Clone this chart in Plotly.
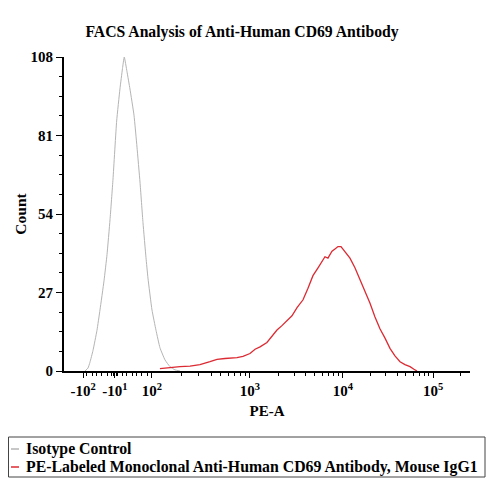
import numpy as np
import plotly.graph_objects as go

# x values are in display units of the biexponential PE-A scale
# (10^2 -> 2, 10^5 -> 5; negative side compressed)
ISO_X = [1.285, 1.317, 1.338, 1.370, 1.413, 1.445, 1.488, 1.520, 1.552, 1.584,
         1.623, 1.658, 1.685, 1.704, 1.733, 1.765, 1.808, 1.840, 1.872, 1.904,
         1.936, 1.957, 2.000, 2.043, 2.085, 2.139, 2.192, 2.245, 2.299]
ISO_Y = [0, 1, 3, 7, 14, 21, 31, 40, 52, 66,
         86, 97, 104, 108, 103, 97, 88, 77, 65, 51,
         39, 32, 21, 14, 8, 3.8, 1.5, 0.4, 0]

CD69_X = [2.085, 2.192, 2.299, 2.406, 2.512, 2.619, 2.694, 2.779, 2.832, 2.907,
          2.971, 3.046, 3.100, 3.153, 3.227, 3.281, 3.334, 3.387, 3.441, 3.494,
          3.548, 3.612, 3.665, 3.718, 3.772, 3.825, 3.846, 3.878, 3.921, 3.953,
          3.985, 4.017, 4.049, 4.081, 4.113, 4.166, 4.220, 4.273, 4.327, 4.380,
          4.433, 4.487, 4.540, 4.593, 4.647, 4.700, 4.754, 4.796, 4.828]
CD69_Y = [0.8, 1.2, 1.5, 1.7, 2.2, 3.2, 4.0, 4.3, 4.4, 4.6,
          5.0, 6.0, 7.5, 8.3, 9.8, 12.0, 14.1, 15.6, 17.2, 19.0,
          21.8, 24.5, 28.5, 32.8, 35.5, 38.3, 39.3, 38.8, 41.2, 42.0,
          42.8, 42.8, 41.6, 40.0, 38.8, 35.5, 31.5, 27.0, 23.3, 18.6,
          14.5, 11.3, 7.8, 5.2, 3.2, 2.2, 1.5, 0.6, 0]

X_TICKVALS = [1.264, 1.605, 2.0, 3.046, 4.038, 5.0]
X_TICKTEXT = ["-10<sup>2</sup>", "-10<sup>1</sup>", "10<sup>2</sup>",
              "10<sup>3</sup>", "10<sup>4</sup>", "10<sup>5</sup>"]
Y_TICKVALS = [0, 27, 54, 81, 108]

NEG_MINOR = [1.306, 1.360, 1.413, 1.466, 1.520, 1.573, 1.594, 1.616, 1.637,
             1.680, 1.733, 1.787, 1.840, 1.893, 1.947]

SERIES_NAMES = ["Isotype Control",
                "PE-Labeled Monoclonal Anti-Human CD69 Antibody, Mouse IgG1"]
SERIES_COLORS = ["#b4b4b4", "#dc2a32"]

# log-spaced minor ticks inside each decade
decades = [(2.0, 3.046), (3.046, 4.038), (4.038, 5.0), (5.0, 5.96)]
minor_x = list(NEG_MINOR)
for lo, hi in decades:
    for k in range(2, 10):
        v = lo + (hi - lo) * np.log10(k)
        if v < 5.39:
            minor_x.append(round(v, 3))

SERIF = "Liberation Serif"
# page is shown with an 8px body margin, so the figure is a bit smaller
W, H = 492, 492
L, R, T, B = 56, 30, 49, 129
OFF = 8


def px(xp):
    # page pixel -> paper x
    return (xp - OFF - L) / (W - L - R)


def py(yp):
    # page pixel -> paper y
    return (H - B - (yp - OFF)) / (H - T - B)


fig = go.Figure()
fig.add_trace(go.Scatter(
    x=ISO_X, y=ISO_Y, mode="lines", name=SERIES_NAMES[0],
    line=dict(color=SERIES_COLORS[0], width=1, shape="spline", smoothing=0.4),
))
fig.add_trace(go.Scatter(
    x=CD69_X, y=CD69_Y, mode="lines", name=SERIES_NAMES[1],
    line=dict(color=SERIES_COLORS[1], width=1.3),
))

# legend box drawn by hand to keep it compact like the original
shapes = [dict(type="rect", xref="paper", yref="paper",
               x0=px(8.5), x1=px(485), y0=py(437), y1=py(477),
               line=dict(color="#444", width=1), fillcolor="white", layer="above")]
annotations = []
for i, (name, color) in enumerate(zip(SERIES_NAMES, SERIES_COLORS)):
    yrow = py(449 + 18 * i)
    shapes.append(dict(type="line", xref="paper", yref="paper",
                       x0=px(11), x1=px(19), y0=yrow, y1=yrow,
                       line=dict(color=color, width=1.5), layer="above"))
    annotations.append(dict(text="<b>%s</b>" % name, xref="paper", yref="paper",
                            x=px(24), y=yrow, xanchor="left", yanchor="middle",
                            showarrow=False,
                            font=dict(family=SERIF, size=15.8, color="black")))

fig.update_layout(
    width=W, height=H,
    paper_bgcolor="white", plot_bgcolor="white",
    margin=dict(l=L, r=R, t=T, b=B),
    font=dict(family=SERIF, color="black"),
    title=dict(text="<b>FACS Analysis of Anti-Human CD69 Antibody</b>",
               x=(242 - OFF) / W, xanchor="center", xref="container",
               y=1 - (32 - OFF) / H, yanchor="middle", yref="container",
               font=dict(family=SERIF, size=15.7, color="black")),
    showlegend=False,
    shapes=shapes,
    annotations=annotations,
)

fig.update_xaxes(
    range=[1.061, 5.394],
    tickmode="array", tickvals=X_TICKVALS,
    ticktext=["<b>" + t + "</b>" for t in X_TICKTEXT],
    ticks="outside", ticklen=5, tickwidth=1, tickcolor="black",
    minor=dict(tickmode="array", tickvals=minor_x, ticks="outside", ticklen=3,
               tickcolor="black", showgrid=False),
    showline=True, linecolor="black", linewidth=2,
    showgrid=False, zeroline=False, automargin=False,
    tickfont=dict(family=SERIF, size=15, color="black"),
    title=dict(text="<b>PE-A</b>", standoff=7,
               font=dict(family=SERIF, size=15, color="black")),
)
fig.update_yaxes(
    range=[0, 108],
    tickmode="array", tickvals=Y_TICKVALS,
    ticktext=["<b>%d</b>" % v for v in Y_TICKVALS],
    ticks="outside", ticklen=6, tickwidth=1, tickcolor="black",
    minor=dict(dtick=6.75, tick0=0, ticks="outside", ticklen=3,
               tickcolor="black", showgrid=False),
    showline=True, linecolor="black", linewidth=2,
    showgrid=False, zeroline=False, automargin=False,
    tickfont=dict(family=SERIF, size=15, color="black"),
    title=dict(text="<b>Count</b>", standoff=0,
               font=dict(family=SERIF, size=15.5, color="black")),
)

fig.write_html("out.html")
